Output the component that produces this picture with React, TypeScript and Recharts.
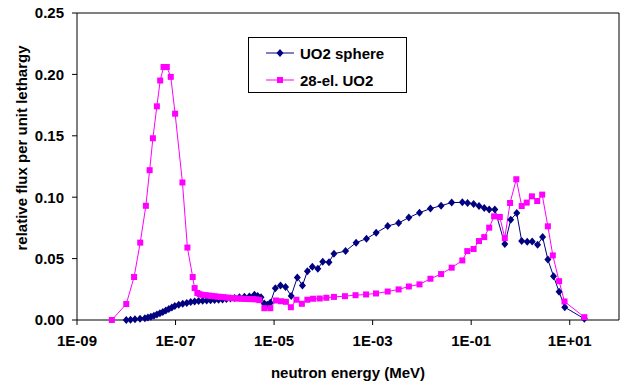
import React from 'react';
import { LineChart, Line, XAxis, YAxis, ReferenceLine } from 'recharts';

const FONT = '"Liberation Sans", Arial, sans-serif';
const NAVY = '#000080';
const MAGENTA = '#FF00FF';

// UO2 sphere spectrum (energy in MeV, flux per unit lethargy)
const sphereEnergy = [
  1.0e-8, 1.22e-8, 1.5e-8, 1.9e-8, 2.39e-8, 2.75e-8, 3.16e-8, 3.64e-8, 4.18e-8,
  4.81e-8, 5.52e-8, 6.35e-8, 7.31e-8, 8.4e-8, 9.66e-8, 1.16e-7, 1.4e-7, 1.69e-7,
  2.03e-7, 2.44e-7, 2.94e-7, 3.55e-7, 4.28e-7, 5.15e-7, 6.19e-7, 7.46e-7, 8.99e-7,
  1.08e-6, 1.3e-6, 1.57e-6, 1.98e-6, 2.5e-6, 3.15e-6, 3.98e-6, 4.65e-6, 5.43e-6,
  6.34e-6, 7.28e-6, 8.38e-6, 1.06e-5, 1.35e-5, 1.71e-5, 2.22e-5, 2.96e-5, 3.76e-5,
  4.74e-5, 5.98e-5, 7.73e-5, 9.7e-5, 1.3e-4, 1.64e-4, 2.82e-4, 4.62e-4, 7.5e-4,
  1.18e-3, 2.02e-3, 3.37e-3, 5.43e-3, 8.93e-3, 1.49e-2, 2.45e-2, 4.02e-2, 6.61e-2,
  8.45e-2, 0.112, 0.144, 0.184, 0.232, 0.302, 0.481, 0.635, 0.84, 1.06, 1.37, 1.73,
  2.23, 2.82, 3.6, 4.69, 6.08, 7.93, 19.8,
];
const sphereFlux = [
  0.0, 0.0003, 0.0006, 0.001, 0.0015, 0.002, 0.0027, 0.0035, 0.0045,
  0.0055, 0.0066, 0.0078, 0.009, 0.0102, 0.0113, 0.0124, 0.0132, 0.0139,
  0.0146, 0.0151, 0.0154, 0.0156, 0.0158, 0.016, 0.0162, 0.0164, 0.0166,
  0.017, 0.0175, 0.018, 0.0185, 0.019, 0.0192, 0.0205, 0.0196, 0.0185,
  0.0135, 0.0125, 0.014, 0.0258, 0.0281, 0.0268, 0.0196, 0.0346, 0.028,
  0.0397, 0.0433, 0.0418, 0.0474, 0.0471, 0.054, 0.0561, 0.063, 0.0662,
  0.071, 0.0765, 0.079, 0.0834, 0.0874, 0.0907, 0.0931, 0.0956, 0.0958,
  0.0953, 0.0945, 0.0928, 0.0912, 0.0899, 0.09, 0.0618, 0.0817, 0.0871, 0.0643, 0.0638, 0.064,
  0.0613, 0.0675, 0.0493, 0.0357, 0.023, 0.0104, 0.001,
];

// 28-element UO2 assembly spectrum
const assemblyEnergy = [
  5.1e-9, 1.0e-8, 1.44e-8, 1.92e-8, 2.5e-8, 2.98e-8, 3.47e-8, 4.18e-8, 4.88e-8,
  5.71e-8, 6.65e-8, 8.0e-8, 9.8e-8, 1.38e-7, 1.74e-7, 2.23e-7, 2.44e-7, 2.77e-7,
  3.08e-7, 3.55e-7, 4.08e-7, 4.69e-7, 5.4e-7, 6.19e-7, 7.13e-7, 8.18e-7, 9.4e-7,
  1.08e-6, 1.24e-6, 1.43e-6, 1.64e-6, 1.89e-6, 2.17e-6, 2.5e-6, 2.88e-6, 3.3e-6,
  3.8e-6, 4.37e-6, 5.02e-6, 6.34e-6, 8.38e-6, 1.09e-5, 1.38e-5, 1.74e-5, 2.19e-5,
  2.84e-5, 3.66e-5, 4.74e-5, 6.18e-5, 8.43e-5, 1.15e-4, 1.64e-4, 2.74e-4, 4.5e-4,
  7.36e-4, 1.17e-3, 2.02e-3, 3.37e-3, 5.43e-3, 8.93e-3, 1.49e-2, 2.45e-2, 4.02e-2,
  6.61e-2, 8.34e-2, 0.112, 0.144, 0.184, 0.232, 0.292, 0.381, 0.481, 0.615, 0.824,
  1.06, 1.34, 1.71, 2.19, 2.76, 3.6, 4.54, 6.08, 7.82, 19.8,
];
const assemblyFlux = [
  0.0, 0.013, 0.035, 0.063, 0.093, 0.122, 0.148, 0.174, 0.195,
  0.206, 0.206, 0.198, 0.168, 0.112, 0.059, 0.035, 0.026, 0.022,
  0.021, 0.0205, 0.0202, 0.0199, 0.0196, 0.0193, 0.019, 0.0188, 0.0186,
  0.0183, 0.018, 0.0178, 0.0176, 0.0175, 0.0174, 0.0172, 0.0171, 0.017,
  0.017, 0.0168, 0.0162, 0.0096, 0.0096, 0.0159, 0.0153, 0.0148, 0.0104,
  0.0165, 0.0132, 0.0165, 0.0173, 0.0175, 0.0181, 0.0188, 0.0194, 0.0202,
  0.0208, 0.0216, 0.0232, 0.0249, 0.0273, 0.029, 0.0336, 0.0374, 0.0426,
  0.0485, 0.0561, 0.0578, 0.0643, 0.0675, 0.0752, 0.0844, 0.0839, 0.0667, 0.0953, 0.1146,
  0.0928, 0.0956, 0.1007, 0.0969, 0.1021, 0.0763, 0.0526, 0.0316, 0.0151, 0.0023,
];

const xTicks = [1e-9, 1e-7, 1e-5, 1e-3, 1e-1, 1e1];
const yTicks = [0, 0.05, 0.1, 0.15, 0.2, 0.25];
const X_MIN = 1e-9;
const X_MAX = 100;
const Y_MAX = 0.25;

const sphereData = sphereEnergy.map((e, i) => ({ e, flux: sphereFlux[i] }));
const assemblyData = assemblyEnergy.map((e, i) => ({ e, flux: assemblyFlux[i] }));

const series = [
  { name: 'UO2 sphere', color: NAVY, diamond: true },
  { name: '28-el. UO2', color: MAGENTA, diamond: false },
];

function formatExp(v: number) {
  const exp = Math.round(Math.log10(v));
  const sign = exp < 0 ? '-' : '+';
  return `1E${sign}${String(Math.abs(exp)).padStart(2, '0')}`;
}

function Diamond(props: any) {
  const { cx, cy, index } = props;
  if (cx == null || cy == null) return null;
  return (
    <path
      key={`d-${index}`}
      d={`M${cx},${cy - 4}L${cx + 3.5},${cy}L${cx},${cy + 4}L${cx - 3.5},${cy}Z`}
      fill={NAVY}
    />
  );
}

function Square(props: any) {
  const { cx, cy, index } = props;
  if (cx == null || cy == null) return null;
  return (
    <rect key={`s-${index}`} x={cx - 3} y={cy - 3} width={6} height={6} fill={MAGENTA} />
  );
}

// boxed legend sitting over the upper middle of the plot
function LegendBox() {
  return (
    <div
      style={{
        position: 'absolute',
        left: 248,
        top: 37,
        width: 159,
        height: 56,
        boxSizing: 'border-box',
        border: '1px solid #000',
        background: '#fff',
        fontFamily: FONT,
        fontWeight: 'bold',
        fontSize: 15,
      }}
    >
      {series.map((s, i) => {
        const rowY = i === 0 ? 15 : 42;
        return (
          <div key={s.name}>
            <svg
              width={28}
              height={10}
              style={{ position: 'absolute', left: 17, top: rowY - 5 }}
            >
              <line x1={0} y1={5} x2={28} y2={5} stroke={s.color} strokeWidth={1} />
              {s.diamond ? (
                <path d="M14,1L17.5,5L14,9L10.5,5Z" fill={s.color} />
              ) : (
                <rect x={11} y={2} width={6} height={6} fill={s.color} />
              )}
            </svg>
            <span
              style={{
                position: 'absolute',
                left: 51,
                top: rowY,
                transform: 'translateY(-50%)',
                lineHeight: 1,
                whiteSpace: 'nowrap',
              }}
            >
              {s.name}
            </span>
          </div>
        );
      })}
    </div>
  );
}

const tickStyle = { fill: '#000', fontSize: 15, fontWeight: 'bold', fontFamily: FONT };

export default function App() {
  return (
    <div
      style={{
        position: 'absolute',
        left: 0,
        top: 0,
        width: 624,
        height: 388,
        background: '#fff',
      }}
    >
      <LineChart
        width={624}
        height={388}
        margin={{ top: 13, right: 5, bottom: 0, left: 0 }}
      >
        <XAxis
          dataKey="e"
          type="number"
          scale="log"
          domain={[X_MIN, X_MAX]}
          allowDataOverflow
          ticks={xTicks}
          interval={0}
          tickFormatter={formatExp}
          height={68}
          tickSize={5}
          tickMargin={10}
          axisLine={{ stroke: '#000' }}
          tickLine={{ stroke: '#000' }}
          tick={tickStyle}
          label={({ viewBox }: any) => (
            <text
              x={viewBox.x + viewBox.width / 2}
              y={372}
              textAnchor="middle"
              dominantBaseline="central"
              fontFamily={FONT}
              fontWeight="bold"
              fontSize={15}
              fill="#000"
            >
              neutron energy (MeV)
            </text>
          )}
        />
        <YAxis
          type="number"
          domain={[0, Y_MAX]}
          ticks={yTicks}
          interval={0}
          tickFormatter={(v: number) => v.toFixed(2)}
          width={77}
          tickSize={5}
          tickMargin={8}
          axisLine={{ stroke: '#000' }}
          tickLine={{ stroke: '#000' }}
          tick={tickStyle}
          label={() => (
            <text
              x={21}
              y={148}
              transform="rotate(-90 21 148)"
              textAnchor="middle"
              dominantBaseline="central"
              fontFamily={FONT}
              fontWeight="bold"
              fontSize={15}
              fill="#000"
            >
              relative flux per unit lethargy
            </text>
          )}
        />
        {/* plot frame: top and right edges */}
        <ReferenceLine y={Y_MAX} stroke="#000" strokeWidth={1} />
        <ReferenceLine x={X_MAX} stroke="#000" strokeWidth={1} />
        <Line
          data={sphereData}
          dataKey="flux"
          name="UO2 sphere"
          stroke={NAVY}
          strokeWidth={1}
          dot={Diamond}
          activeDot={false}
          isAnimationActive={false}
        />
        <Line
          data={assemblyData}
          dataKey="flux"
          name="28-el. UO2"
          stroke={MAGENTA}
          strokeWidth={1}
          dot={Square}
          activeDot={false}
          isAnimationActive={false}
        />
      </LineChart>
      <LegendBox />
    </div>
  );
}
